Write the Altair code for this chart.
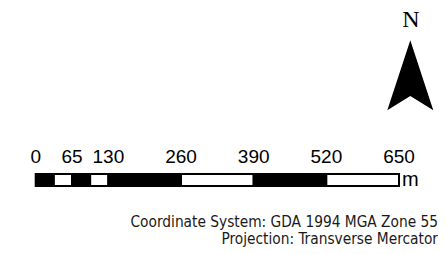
import altair as alt
import pandas as pd

# Scale bar data (metres)
tick_values = [0, 65, 130, 260, 390, 520, 650]
seg_starts = [0, 32.5, 65, 97.5, 130, 260, 390, 520]
seg_ends = [32.5, 65, 97.5, 130, 260, 390, 520, 650]
seg_fills = ["black", "white", "black", "white", "black", "white", "black", "white"]
unit_label = ["m"]
unit_at = [650]
north_label = ["N"]
notes = ["Coordinate System: GDA 1994 MGA Zone 55", "Projection: Transverse Mercator"]

SANS = "Arial, 'Liberation Sans', Helvetica, sans-serif"
NARROW = "'Arial Narrow', 'Liberation Sans Narrow', 'DejaVu Sans Condensed', Roboto, sans-serif"
SERIF = "'Times New Roman', 'Liberation Serif', Times, serif"

segs = pd.DataFrame({"start": seg_starts, "end": seg_ends, "fill": seg_fills})
ticks = pd.DataFrame({"v": tick_values, "label": [str(t) for t in tick_values]})
unit = pd.DataFrame({"v": unit_at, "label": unit_label})

xscale = alt.Scale(domain=[-49.56, 719.78], nice=False, zero=False)

bar = alt.Chart(segs).mark_rect(stroke="black", strokeWidth=2).encode(
    x=alt.X("start:Q", scale=xscale, axis=None),
    x2="end:Q",
    y=alt.value(165),
    y2=alt.value(177),
    fill=alt.Fill("fill:N", scale=None),
)

labels = alt.Chart(ticks).mark_text(
    font=SANS, fontSize=19, baseline="alphabetic", align="center", color="black"
).encode(
    x=alt.X("v:Q", scale=xscale, axis=None),
    y=alt.value(153.5),
    text="label:N",
)

unit_text = alt.Chart(unit).mark_text(
    font=SANS, fontSize=20, baseline="alphabetic", align="left", dx=3, color="black"
).encode(
    x=alt.X("v:Q", scale=xscale, axis=None),
    y=alt.value(177),
    text="label:N",
)

north = alt.Chart(pd.DataFrame({"t": north_label})).mark_text(
    font=SERIF, fontSize=24, baseline="alphabetic", align="center", color="black"
).encode(x=alt.value(403), y=alt.value(18), text="t:N")

arrow = alt.Chart(pd.DataFrame({"t": north_label})).mark_point(
    shape="M0,-1L0.657,1L0,0.59L-0.657,1Z", filled=True, fill="black", opacity=1, size=4900
).encode(x=alt.value(402.3), y=alt.value(66.3))

note1 = alt.Chart(pd.DataFrame({"t": notes[:1]})).mark_text(
    font=NARROW, fontSize=15.3, baseline="alphabetic", align="right", color="#1a1a1a"
).encode(x=alt.value(430), y=alt.value(218), text="t:N")
note2 = alt.Chart(pd.DataFrame({"t": notes[1:]})).mark_text(
    font=NARROW, fontSize=15.3, baseline="alphabetic", align="right", color="#1a1a1a"
).encode(x=alt.value(430), y=alt.value(235), text="t:N")

chart = alt.layer(bar, labels, unit_text, north, arrow, note1, note2).properties(
    width=430, height=238, padding=0
).configure_view(stroke=None)

chart.save("out.html", embed_options={"renderer": "svg", "actions": False})
